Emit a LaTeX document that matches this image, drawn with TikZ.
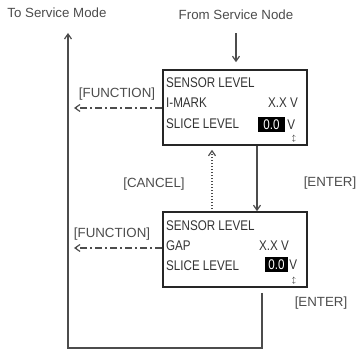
\documentclass[tikz,border=0pt]{standalone}
\usepackage{fontspec}
\setmainfont{Liberation Sans}[FakeStretch=0.83]
\newfontfamily\lblfont{Liberation Sans}
\usetikzlibrary{arrows.meta,positioning}

\begin{document}
\begin{tikzpicture}[x=1pt,y=-1pt,font=\fontsize{14}{15}\selectfont,
  screen/.style={draw=black!85,line width=1.6pt,minimum width=144pt,minimum height=75pt},
  row/.style={anchor=west,inner sep=0pt,text=black!80},
  hilite/.style={fill=black,text=white,inner sep=0pt,minimum height=15pt},
  lbl/.style={font=\lblfont\fontsize{13.3}{14}\selectfont,text=black!70},
  line/.style={draw=black!70,line width=1.2pt},
  >={Straight Barb[length=5pt,width=7pt]}]
\useasboundingbox (0,0) rectangle (360,352);
% screens
\node[screen] (scr1) at (235,107.5) {};
\node[screen] (scr2) at (235,249.5) {};
% top screen text
\node[row] (s1title) at (166,83) {SENSOR LEVEL};
\node[row] (s1mark) at (166,103) {I-MARK};
\node[row] (s1slice) at (166,124) {SLICE LEVEL};
\node[row] (s1val) at (268,103) {X.X V};
\node[hilite,minimum width=27pt] (s1hi) at (271.5,124.5) {0.0};
\node[row,right=2pt of s1hi] (s1unit) {V};
\node[inner sep=0pt] (s1knob) at (294,139) {\scriptsize$\updownarrow$};
% bottom screen text
\node[row] (s2title) at (166,226) {SENSOR LEVEL};
\node[row] (s2gap) at (166,246) {GAP};
\node[row] (s2slice) at (166,266) {SLICE LEVEL};
\node[row] (s2val) at (259,246) {X.X V};
\node[hilite,minimum width=23pt] (s2hi) at (276.5,264.5) {0.0};
\node[row,right=1pt of s2hi] (s2unit) {V};
\node[inner sep=0pt] (s2knob) at (294,281) {\scriptsize$\updownarrow$};
% labels
\node[lbl] (tosvc) at (57,13) {To Service Mode};
\node[lbl] (fromsvc) at (236,15) {From Service Node};
\node[lbl] (fn1) at (117,94) {[FUNCTION]};
\node[lbl] (fn2) at (112,234) {[FUNCTION]};
\node[lbl] (cancel) at (154,184) {[CANCEL]};
\node[lbl] (enter1) at (330,183) {[ENTER]};
\node[lbl] (enter2) at (321,303) {[ENTER]};
\coordinate (fnend1) at (74,108);
\coordinate (fnend2) at (74,248);
\coordinate (corner1) at (262,348);
\coordinate (corner2) at (68,348);
\coordinate (backend) at (68,33);
% connectors
\draw[line,->] ([yshift=-10pt]fromsvc.south) -- ([yshift=7pt]scr1.north -| fromsvc);
\draw[line,->,dash pattern=on 7pt off 3pt on 2pt off 3pt] (scr1.west |- fnend1) -- (fnend1);
\draw[line,->,dash pattern=on 7pt off 3pt on 2pt off 3pt] (scr2.west |- fnend2) -- (fnend2);
\draw[line,->,dash pattern=on 1.5pt off 1.5pt] ([yshift=2pt]scr2.north -| 212,0) -- ([yshift=-4pt]scr1.south -| 212,0);
\draw[line,->] (scr1.south -| 257,0) -- (scr2.north -| 257,0);
\draw[line,->] ([yshift=-5pt]scr2.south -| corner1) -- (corner1) -- (corner2) -- (backend);
\end{tikzpicture}
\end{document}
